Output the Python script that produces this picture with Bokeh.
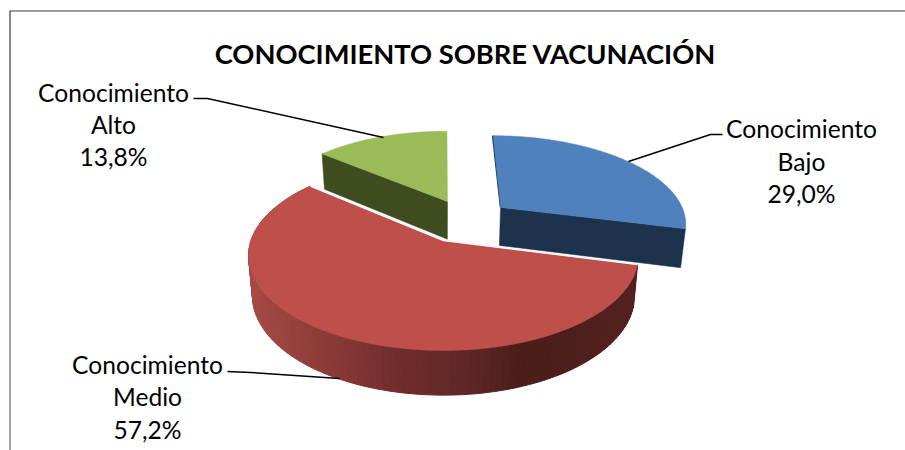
import numpy as np
from bokeh.embed import file_html
from bokeh.models import ColumnDataSource, Range1d
from bokeh.plotting import figure
from bokeh.resources import INLINE
from bokeh.core.properties import value

# ---- data
categories = ["Conocimiento Bajo", "Conocimiento Medio", "Conocimiento Alto"]
line_one = ["Conocimiento", "Conocimiento", "Conocimiento"]
line_two = ["Bajo", "Medio", "Alto"]
shares = [29.0, 57.2, 13.8]
title_text = "CONOCIMIENTO SOBRE VACUNACIÓN"

# ---- style / layout
top_colors = ["#4F81BD", "#BE4F4B", "#9BBB59"]
cut_colors = ["#1D324C", "#4C1D1B", "#3F4C20"]
explode = [(0.314, -0.378), (0.0, 0.0), (0.022, -0.451)]
CX, CY, A, B, K = 443.0, 240.0, 192.5, 92.6, 0.158
DEPTH, SX, SY = 39.5, 0.98, 1.047
FONT = "Lato"
LABEL_PX = "24.6px"
label_centers = [(801, [128, 161, 193]), (147, [364, 396, 429]), (113, [92, 124, 156])]
leaders = [
    ([722, 710, 628], [134, 134, 161]),
    ([227, 250, 339], [371, 372, 378]),
    ([193, 207, 383], [98, 98, 137]),
]
wall_stops_x = [248, 300, 400, 470, 520, 636]
wall_stops_rgb = [(168, 74, 70), (148, 64, 60), (111, 45, 44), (94, 39, 38), (76, 29, 27), (82, 33, 32)]


def project(u, v, lower=False):
    u, v = np.asarray(u, float), np.asarray(v, float)
    w = 1 - K * v
    x = A * u / w
    y = B * v / w
    if lower:
        return CX + SX * x, CY + DEPTH + SY * y
    return CX + x, CY + y


def arc(t0, t1, off, n=120):
    t = np.radians(np.linspace(t0, t1, n))
    return np.sin(t) + off[0], -np.cos(t) + off[1]


p = figure(width=905, height=450, output_backend="svg", toolbar_location=None,
           x_range=Range1d(0, 905), y_range=Range1d(450, 0),
           min_border=0, background_fill_color="white", border_fill_color="white")
p.axis.visible = False
p.grid.visible = False
p.outline_line_color = None

# chart frame
p.line([905, 9.5, 9.5], [10.5, 10.5, 200], line_color="#3A3A3A", line_width=1.2)
p.line([9.5, 9.5], [200, 450], line_color="#808080", line_width=1.4)

# slice angles clockwise from the top
total = sum(shares)
edges = np.concatenate([[0.0], np.cumsum(shares) / total * 360.0])

# slices: Alto, Bajo, then Medio in front
for i in [2, 0, 1]:
    t0, t1 = edges[i], edges[i + 1]
    off = explode[i]
    au, av = arc(t0, t1, off)
    ax, ay = project(au, av)
    lx, ly = project(au, av, lower=True)
    ox, oy = project(off[0], off[1])
    olx, oly = project(off[0], off[1], lower=True)

    if i == 1:
        # gradient outer wall
        xs, ys, cols = [], [], []
        for k in range(len(ax) - 1):
            xs.append([ax[k], ax[k + 1], lx[k + 1], lx[k]])
            ys.append([ay[k], ay[k + 1], ly[k + 1], ly[k]])
            mid = 0.5 * (ax[k] + ax[k + 1])
            rgb = [int(np.interp(mid, wall_stops_x, [c[j] for c in wall_stops_rgb])) for j in range(3)]
            cols.append("#%02x%02x%02x" % tuple(rgb))
        p.patches(xs, ys, fill_color=cols, line_color=cols, line_width=1)
    elif i == 0:
        # cut face at the end of the slice, facing the viewer
        p.patch([ox, ax[-1], lx[-1], olx], [oy, ay[-1], ly[-1], oly],
                fill_color=cut_colors[i], line_color=cut_colors[i], line_width=0.5)
        p.line([ax[0], ox + 0.5], [ay[0], oy], line_color=cut_colors[i], line_width=2.5)
    else:
        # cut face at the start of the slice
        p.patch([ax[0], ox, olx, lx[0]], [ay[0], oy, oly, ly[0]],
                fill_color=cut_colors[i], line_color=cut_colors[i], line_width=0.5)

    p.patch(np.r_[ox, ax], np.r_[oy, ay], fill_color=top_colors[i], line_color=top_colors[i], line_width=0.5)
    if i == 1:
        p.line([ax[-1], ox, ax[0]], [ay[-1], oy, ay[0]], line_color="white", line_width=1.5)

# leader lines
for lxs, lys in leaders:
    p.line(lxs, lys, line_color="black", line_width=1.5)

# labels
tx, ty, tt = [], [], []
for i, (cx, rows) in enumerate(label_centers):
    words = [line_one[i], line_two[i], f"{shares[i]:.1f}%".replace(".", ",")]
    for w, r in zip(words, rows):
        tx.append(cx)
        ty.append(r)
        tt.append(w)
p.text(x="x", y="y", text="t", source=ColumnDataSource(dict(x=tx, y=ty, t=tt)),
       text_font=value(FONT), text_font_size=value(LABEL_PX), text_color="black",
       text_align="center", text_baseline="middle")
p.text(x=[465], y=[53], text=[title_text], text_font=value(FONT), text_font_size=value("27.3px"),
       text_font_style="bold", text_color="black", text_align="center", text_baseline="middle")

open("out.html", "w").write(file_html(p, INLINE))
